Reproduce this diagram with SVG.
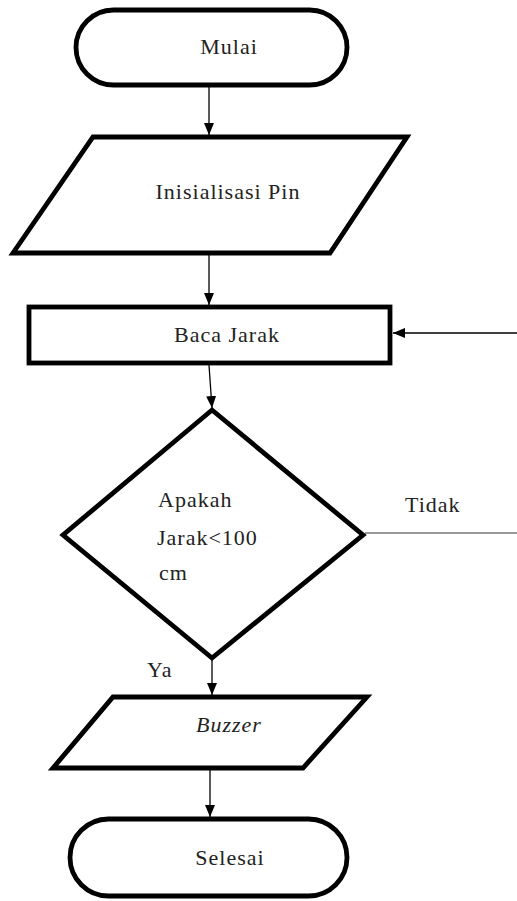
<svg xmlns="http://www.w3.org/2000/svg" width="517" height="901" viewBox="0 0 517 901">
  <defs>
    <marker id="arrow" viewBox="0 0 12 10" refX="12" refY="5" markerWidth="12" markerHeight="10" markerUnits="userSpaceOnUse" orient="auto">
      <path d="M0,0 L12,5 L0,10 z" fill="#000"/>
    </marker>
    <style>
      .shape { fill: #fff; stroke: #000; stroke-width: 4.8; stroke-linejoin: miter; }
      .flow { fill: none; stroke: #000; stroke-width: 1.3; }
      .grey { fill: none; stroke: #777; stroke-width: 1.6; }
      .mid { text-anchor: middle; }
    </style>
  </defs>
  <rect width="517" height="901" fill="#fff"/>

  <g font-family="'Liberation Serif', 'Times New Roman', serif" font-size="22" letter-spacing="1" fill="#222">
    <!-- connectors -->
    <g id="connectors">
      <line class="flow" x1="209" y1="86" x2="209" y2="135" marker-end="url(#arrow)"/>
      <line class="flow" x1="209" y1="254" x2="209" y2="305" marker-end="url(#arrow)"/>
      <line class="flow" x1="209" y1="365" x2="212" y2="408" marker-end="url(#arrow)"/>
      <line class="flow" x1="517" y1="333" x2="393" y2="333" marker-end="url(#arrow)"/>
      <line class="grey" x1="365" y1="533" x2="517" y2="533"/>
      <line class="flow" x1="212" y1="660" x2="212" y2="695" marker-end="url(#arrow)"/>
      <line class="flow" x1="210" y1="769" x2="210" y2="817" marker-end="url(#arrow)"/>
      <text x="405" y="512">Tidak</text>
      <text x="147" y="677">Ya</text>
    </g>

    <g id="mulai">
      <rect class="shape" x="76" y="10" width="271" height="75" rx="37.5"/>
      <text class="mid" x="229" y="54">Mulai</text>
    </g>

    <g id="inisialisasi">
      <polygon class="shape" points="93,137 407,137 330,253 13,253"/>
      <text class="mid" x="228" y="199">Inisialisasi Pin</text>
    </g>

    <g id="baca-jarak">
      <rect class="shape" x="29" y="307" width="361" height="56"/>
      <text class="mid" x="227" y="342">Baca Jarak</text>
    </g>

    <g id="keputusan">
      <polygon class="shape" points="212,410 363,535 212,658 63,535"/>
      <text x="158" y="507">Apakah</text>
      <text x="157" y="545">Jarak&lt;100</text>
      <text x="159" y="580">cm</text>
    </g>

    <g id="buzzer">
      <polygon class="shape" points="113,697 367,697 303,768 53,768"/>
      <text class="mid" x="229" y="732" font-style="italic">Buzzer</text>
    </g>

    <g id="selesai">
      <rect class="shape" x="70" y="819" width="277" height="77" rx="38.5"/>
      <text class="mid" x="230" y="865">Selesai</text>
    </g>
  </g>
</svg>
